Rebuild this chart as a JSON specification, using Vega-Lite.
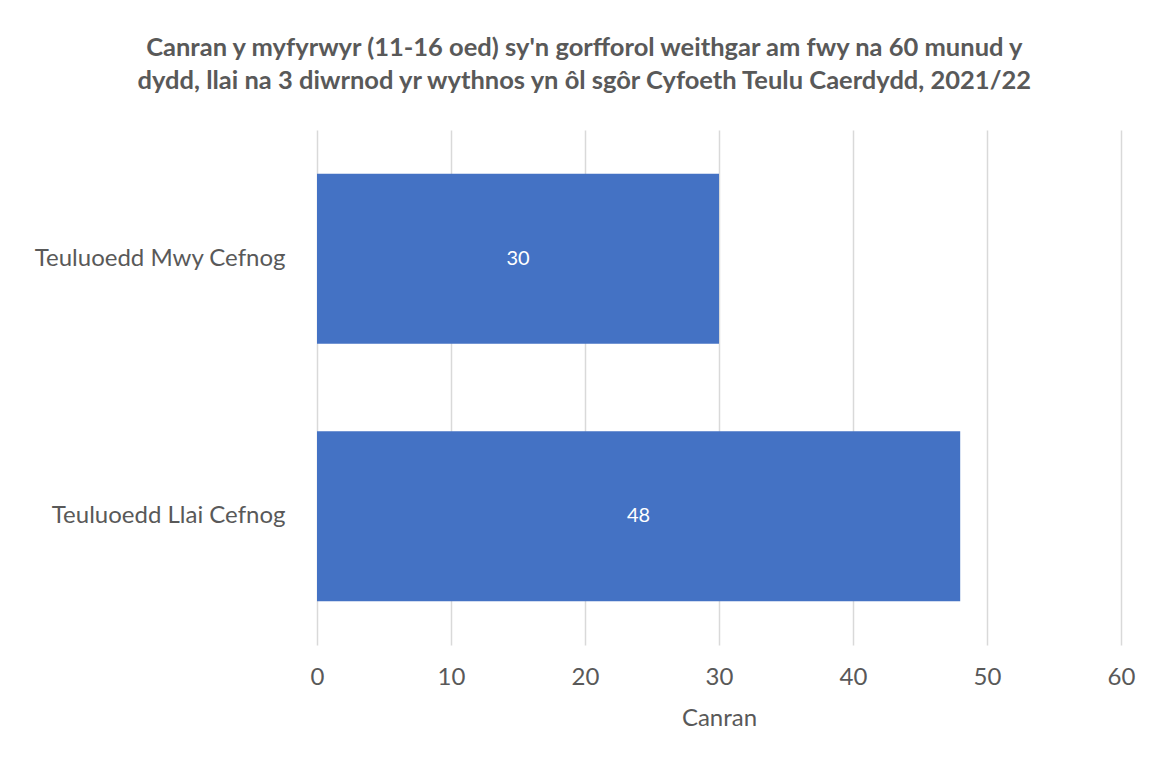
{
  "$schema": "https://vega.github.io/schema/vega-lite/v6.json",
  "autosize": {"type": "none"},
  "width": 804,
  "height": 515,
  "padding": {"left": 317, "top": 130, "right": 32, "bottom": 117},
  "background": "white",
  "title": {
    "text": ["Canran y myfyrwyr (11-16 oed) sy'n gorfforol weithgar am fwy na 60 munud y", "dydd, llai na 3 diwrnod yr wythnos yn ôl sgôr Cyfoeth Teulu Caerdydd, 2021/22"],
    "font": "Lato",
    "fontSize": 25.5,
    "fontWeight": "bold",
    "color": "#595959",
    "anchor": "middle",
    "frame": "bounds",
    "lineHeight": 33,
    "offset": 36
  },
  "data": {
    "values": [
      {"group": "Teuluoedd Mwy Cefnog", "value": 30},
      {"group": "Teuluoedd Llai Cefnog", "value": 48}
    ]
  },
  "config": {"view": {"stroke": null}},
  "encoding": {
    "y": {
      "field": "group",
      "type": "nominal",
      "sort": null,
      "scale": {"paddingInner": 0.34, "paddingOuter": 0.17},
      "axis": {
        "title": null,
        "domain": false,
        "ticks": false,
        "labelFont": "Lato",
        "labelFontSize": 24,
        "labelColor": "#595959",
        "labelPadding": 32,
        "labelLimit": 400
      }
    }
  },
  "layer": [
    {
      "mark": {"type": "bar", "color": "#4472C4"},
      "encoding": {
        "x": {
          "field": "value",
          "type": "quantitative",
          "scale": {"domain": [0, 60]},
          "axis": {
            "title": "Canran",
            "titleFont": "Lato",
            "titleFontSize": 24,
            "titleFontWeight": "normal",
            "titleColor": "#595959",
            "titlePadding": 17,
            "values": [0, 10, 20, 30, 40, 50, 60],
            "labelFlush": false,
            "domain": false,
            "ticks": false,
            "grid": true,
            "gridColor": "#d9d9d9",
            "gridWidth": 1.5,
            "labelFont": "Lato",
            "labelFontSize": 24,
            "labelColor": "#595959",
            "labelPadding": 20
          }
        }
      }
    },
    {
      "transform": [{"calculate": "datum.value / 2", "as": "labelPos"}],
      "mark": {"type": "text", "color": "white", "font": "Lato", "fontSize": 20},
      "encoding": {
        "x": {"field": "labelPos", "type": "quantitative"},
        "text": {"field": "value", "type": "quantitative"}
      }
    }
  ]
}
